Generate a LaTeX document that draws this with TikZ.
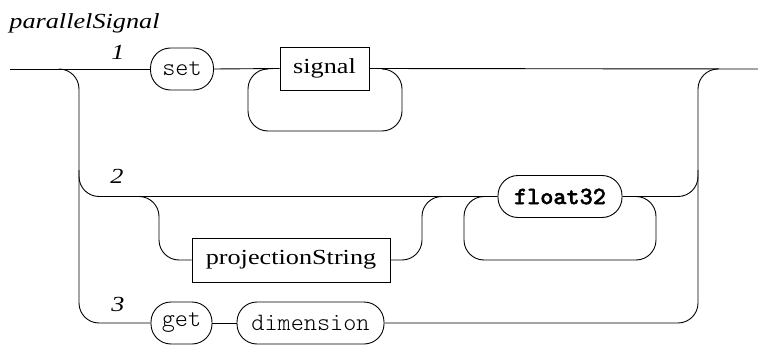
\documentclass[tikz,border=0pt]{standalone}
\usepackage{fontspec}
\setmainfont{Liberation Serif}[FakeStretch=1.22]
\setmonofont{Latin Modern Mono Light}
\newfontfamily\boldtt{Latin Modern Mono Light}[BoldFeatures={FakeBold=1.5}]
\begin{document}
\begin{tikzpicture}[x=1pt,y=-1pt,
  line width=0.9pt,
  term/.style={draw,rounded corners=20pt,minimum height=42pt,inner xsep=4pt,inner ysep=0pt,font=\fontsize{25}{25}\selectfont\ttfamily},
  nonterm/.style={draw,rectangle,minimum height=43pt,inner xsep=4pt,inner ysep=0pt,font=\fontsize{21.5}{21.5}\selectfont},
  lbl/.style={font=\fontsize{21.5}{21.5}\selectfont\itshape,inner sep=0pt},
  conn/.style={rounded corners=20pt}]
\useasboundingbox (0,0) rectangle (758,345);
% title and labels
\node[lbl,anchor=west] (title) at (9,23) {parallelSignal};
\node[lbl] (l1) at (118,52) {1};
\node[lbl] (l2) at (117,176) {2};
\node[lbl] (l3) at (118,304) {3};
% nodes
\node[term,minimum width=63pt] (set) at (182,69) {set};
\node[nonterm,minimum width=89pt] (signal) at (324.5,68.5) {signal};
\node[term,minimum width=124pt,font=\fontsize{25}{25}\selectfont\boldtt\bfseries] (float) at (560,196.5) {float32};
\node[nonterm,minimum width=198pt,minimum height=44pt] (proj) at (291,260) {projectionString};
\node[term,minimum width=61pt] (get) at (181.5,323) {get};
\node[term,minimum width=147pt] (dim) at (310.5,323) {dimension};
% coordinates
\coordinate (in) at (10,69);
\coordinate (out) at (758,69);
% main row 1
\draw (in) -- (set.west);
\draw (set.east) -- (signal.west);
\draw (signal.east) -- (out);
% loop under signal
\draw[conn] (268,69) -- (248,69) -- (248,131) -- (402,131) -- (402,69) -- (382,69);
% left branch
\draw[conn] (59,69) -- (79,69) -- (79,323) -- (get.west);
\draw[conn] (79,170) -- (79,196.5) -- (float.west);
% right branch
\draw[conn] (718,69) -- (698,69) -- (698,323) -- (dim.east);
\draw[conn] (float.east) -- (698,196.5) -- (698,170);
% row 3
\draw (get.east) -- (dim.west);
% optional projectionString
\draw[conn] (139,196.5) -- (159,196.5) -- (159,260) -- (proj.west);
\draw[conn] (proj.east) -- (422,260) -- (422,196.5) -- (442,196.5);
% loop under float32
\draw[conn] (484,196.5) -- (464,196.5) -- (464,260) -- (656,260) -- (656,196.5) -- (636,196.5);
\end{tikzpicture}
\end{document}
